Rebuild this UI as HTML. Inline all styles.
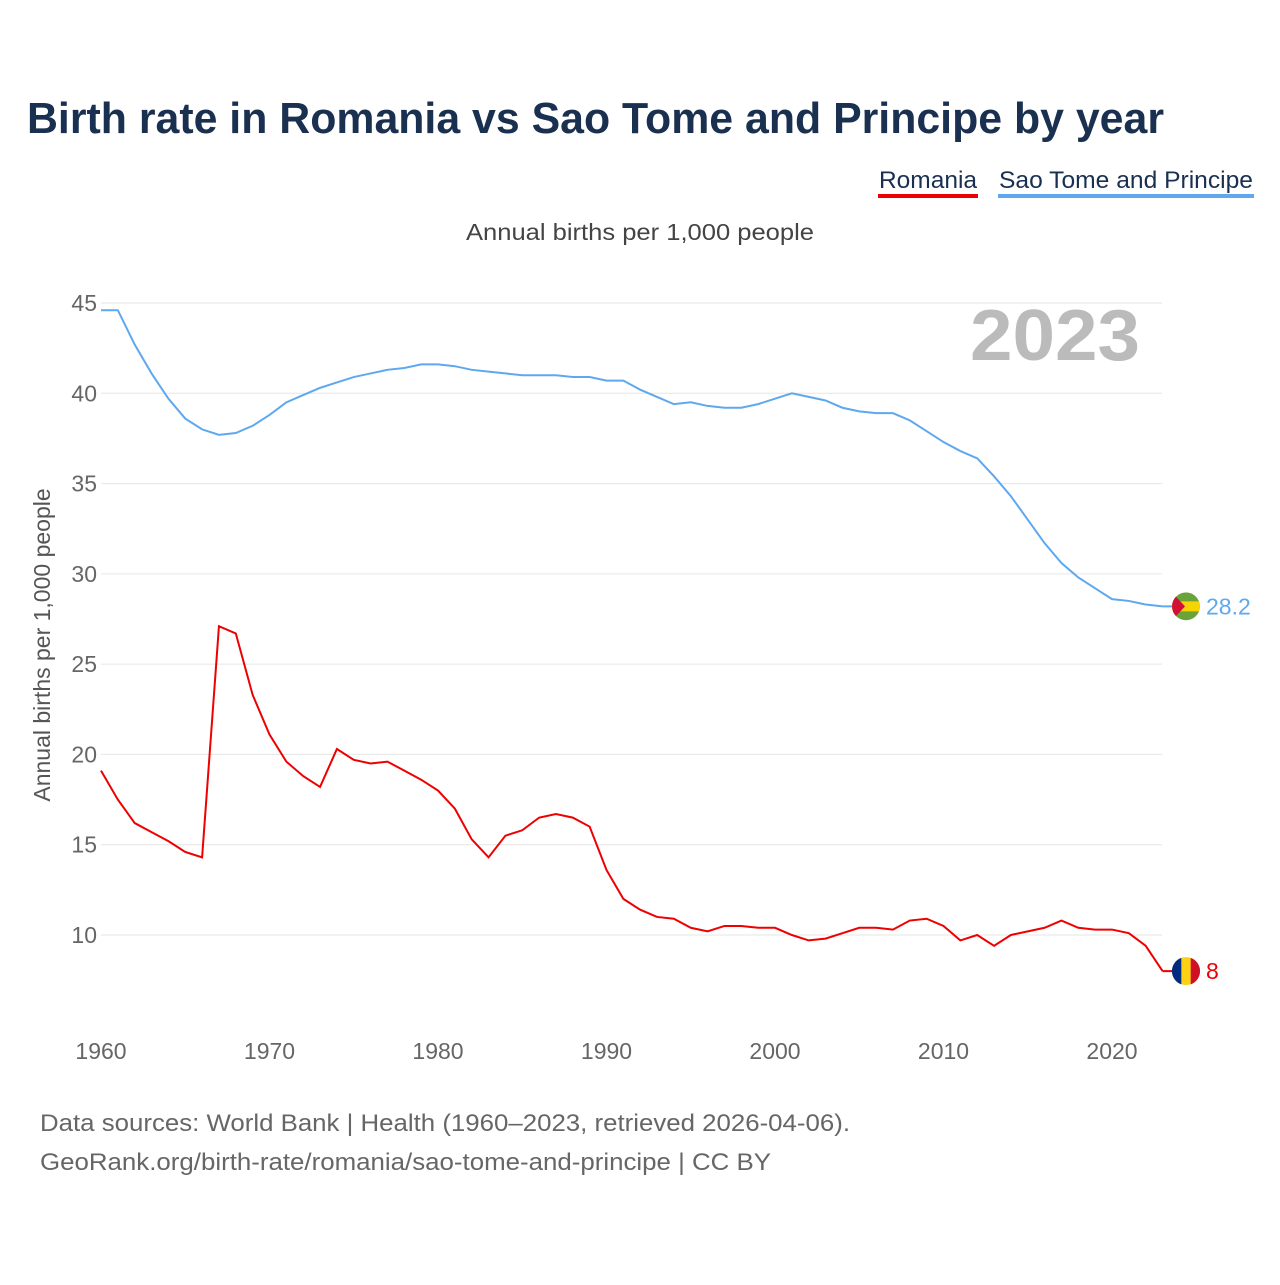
<!DOCTYPE html>
<html><head><meta charset="utf-8"><style>
body{margin:0;background:#fff;font-family:"Liberation Sans",sans-serif;}
svg text{font-family:"Liberation Sans",sans-serif;}
</style></head><body>
<svg width="1280" height="1280" viewBox="0 0 1280 1280" xmlns="http://www.w3.org/2000/svg">
<defs><clipPath id="stpclip"><circle cx="1186" cy="0" r="14"/></clipPath></defs>
<text x="27" y="133" font-size="44" font-weight="bold" fill="#1a3050" textLength="1137" lengthAdjust="spacingAndGlyphs">Birth rate in Romania vs Sao Tome and Principe by year</text>
<g><text x="879" y="188" font-size="24" fill="#1a3050" textLength="98" lengthAdjust="spacingAndGlyphs">Romania</text><rect x="878" y="194" width="100" height="4" fill="#ee0000"/></g>
<g><text x="999" y="188" font-size="24" fill="#1a3050" textLength="254" lengthAdjust="spacingAndGlyphs">Sao Tome and Principe</text><rect x="998" y="194" width="256" height="4" fill="#5ea8ef"/></g>
<text x="466" y="240" font-size="23" fill="#444" textLength="348" lengthAdjust="spacingAndGlyphs">Annual births per 1,000 people</text>
<text x="970" y="360" font-size="72" font-weight="bold" fill="#bbb" textLength="170" lengthAdjust="spacingAndGlyphs">2023</text>
<text transform="translate(50,645) rotate(-90)" font-size="23" fill="#555" text-anchor="middle">Annual births per 1,000 people</text>
<g id="grid"></g><g id="series"></g><g id="ends"></g>
<text x="40" y="1131" font-size="24" fill="#666" textLength="810" lengthAdjust="spacingAndGlyphs">Data sources: World Bank | Health (1960–2023, retrieved 2026-04-06).</text>
<text x="40" y="1170" font-size="24" fill="#666" textLength="731" lengthAdjust="spacingAndGlyphs">GeoRank.org/birth-rate/romania/sao-tome-and-principe | CC BY</text>
</svg>
<script>
const years=[];for(let y=1960;y<=2023;y++)years.push(y);
const romania=[19.1,17.5,16.2,15.7,15.2,14.6,14.3,27.1,26.7,23.3,21.1,19.6,18.8,18.2,20.3,19.7,19.5,19.6,19.1,18.6,18.0,17.0,15.3,14.3,15.5,15.8,16.5,16.7,16.5,16.0,13.6,12.0,11.4,11.0,10.9,10.4,10.2,10.5,10.5,10.4,10.4,10.0,9.7,9.8,10.1,10.4,10.4,10.3,10.8,10.9,10.5,9.7,10.0,9.4,10.0,10.2,10.4,10.8,10.4,10.3,10.3,10.1,9.4,8.0];
const saoTome=[44.6,44.6,42.7,41.1,39.7,38.6,38.0,37.7,37.8,38.2,38.8,39.5,39.9,40.3,40.6,40.9,41.1,41.3,41.4,41.6,41.6,41.5,41.3,41.2,41.1,41.0,41.0,41.0,40.9,40.9,40.7,40.7,40.2,39.8,39.4,39.5,39.3,39.2,39.2,39.4,39.7,40.0,39.8,39.6,39.2,39.0,38.9,38.9,38.5,37.9,37.3,36.8,36.4,35.4,34.3,33.0,31.7,30.6,29.8,29.2,28.6,28.5,28.3,28.2];
const yTicks=[10,15,20,25,30,35,40,45];
const xTicks=[1960,1970,1980,1990,2000,2010,2020];
const X=y=>101+(y-1960)*(1112-101)/60;
const Y=v=>935-(v-10)*(935-303)/35;
const NS="http://www.w3.org/2000/svg";
function mk(t,a,p){const e=document.createElementNS(NS,t);for(const k in a)e.setAttribute(k,a[k]);p.appendChild(e);return e;}
const grid=document.getElementById('grid');
yTicks.forEach(v=>{
 const l=mk('line',{x1:101,x2:1162,y1:Y(v),y2:Y(v),stroke:'#e6e6e6','stroke-width':1},grid);
 
 
 const t=mk('text',{x:97,y:Y(v)+8,'font-size':23,fill:'#666','text-anchor':'end'},grid);t.textContent=v;
 
 
});
xTicks.forEach(y=>{
 const t=mk('text',{x:X(y),y:1059,'font-size':23,fill:'#666','text-anchor':'middle'},grid);t.textContent=y;
 
 
});
const s=document.getElementById('series');
function line(data,color,name){
 const p=mk('polyline',{points:data.map((v,i)=>X(years[i])+','+Y(v)).join(' '),fill:'none',stroke:color,'stroke-width':2},s);
 
 
}
line(saoTome,'#5ea8ef','line-sao-tome');
line(romania,'#ee0000','line-romania');
const e=document.getElementById('ends');
function end(v,color,label,name,flag){
 const cx=1186,cy=Y(v);
 const g=mk('g',{},e);
 
 
 mk('line',{x1:X(2023),x2:cx,y1:cy,y2:cy,stroke:color,'stroke-width':2},g);
 flag(g,cx,cy);
 const t=mk('text',{x:cx+20,y:cy+8,'font-size':23,fill:color},g);t.textContent=label;
}
end(saoTome[63],'#5ea8ef','28.2','end-label-sao-tome',(g,cx,cy)=>{
 const f=mk('g',{transform:`translate(0,${cy})`,'clip-path':'url(#stpclip)'},g);
 mk('circle',{cx,cy:0,r:14,fill:'#6aa33a'},f);
 mk('rect',{x:cx-14,y:-5,width:28,height:10,fill:'#f5d400'},f);
 mk('path',{d:`M${cx-14} -14 L${cx-1} 0 L${cx-14} 14Z`,fill:'#d21034'},f);
});
end(romania[63],'#ee0000','8','end-label-romania',(g,cx,cy)=>{
 mk('circle',{cx,cy,r:14,fill:'#fcd116'},g);
 mk('path',{d:`M${cx-4.7} ${cy-13.2} A14 14 0 0 0 ${cx-4.7} ${cy+13.2}Z`,fill:'#002b7f'},g);
 mk('path',{d:`M${cx+4.7} ${cy-13.2} A14 14 0 0 1 ${cx+4.7} ${cy+13.2}Z`,fill:'#ce1126'},g);
});
</script>
</body></html>
